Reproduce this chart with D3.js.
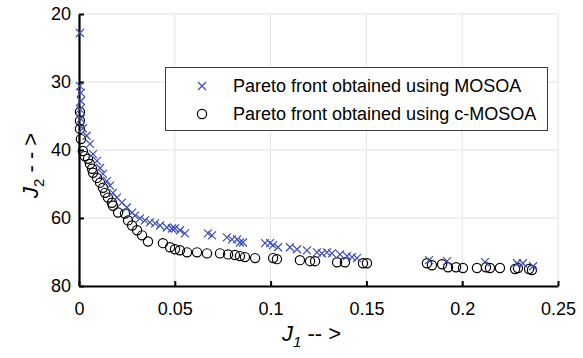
<!DOCTYPE html>
<html><head><meta charset="utf-8">
<script src="https://cdn.jsdelivr.net/npm/d3@7"></script>
<style>
html,body{margin:0;padding:0;background:#fff;}
svg{display:block;font-family:Arial,"Liberation Sans",sans-serif;}
</style></head>
<body>
<svg id="c" width="583" height="358"></svg>
<script>
// ---- data ----
const xTicks = [0, 0.05, 0.1, 0.15, 0.2, 0.25];
const xTickLabels = ["0", "0.05", "0.1", "0.15", "0.2", "0.25"];
const yTicks = [20, 30, 40, 60, 80];
const yTickLabels = ["20", "30", "40", "60", "80"];
const seriesNames = ["Pareto front obtained using MOSOA", "Pareto front obtained using c-MOSOA"];

const mosoaJ1 = [0.0005,0.0005,0.001,0.001,0.0005,0.001,0.002,0.004,0.0057,0.0073,0.0094,0.011,0.0125,0.0146,0.0162,0.0177,0.0198,0.0224,0.025,0.0277,0.0292,0.0318,0.0344,0.037,0.0397,0.0423,0.0459,0.0485,0.050,0.0527,0.0553,0.0673,0.0694,0.0772,0.0799,0.0825,0.084,0.0856,0.0971,0.0997,0.1013,0.1039,0.1101,0.1138,0.119,0.1242,0.1268,0.1294,0.132,0.1362,0.1399,0.1425,0.1451,0.1827,0.1921,0.2119,0.2286,0.2317,0.237];
const mosoaJ2 = [22.8,30.6,31.6,32.8,34.0,35.4,36.8,37.9,39.1,41.2,43.2,45.3,47.0,49.1,50.5,52.6,54.0,55.5,56.9,58.4,59.3,60.1,60.7,61.3,61.6,62.2,62.8,63.1,63.1,63.6,64.5,64.5,65.1,65.7,66.3,66.3,67.2,67.2,67.4,67.4,68.0,68.6,68.6,69.2,69.5,70.1,70.4,70.1,70.4,70.7,71.2,71.5,71.8,72.4,72.7,73.0,73.3,73.3,74.2];

const cmosoaJ1 = [0.0005,0.0005,0.0005,0.001,0.002,0.003,0.0047,0.0057,0.0068,0.0073,0.0094,0.011,0.0125,0.0136,0.0151,0.0172,0.0177,0.0204,0.024,0.0256,0.0277,0.0303,0.0329,0.036,0.0438,0.0475,0.0501,0.0527,0.0564,0.0616,0.0668,0.0736,0.0778,0.0814,0.084,0.0866,0.0919,0.1013,0.1033,0.1153,0.1206,0.1232,0.1347,0.1388,0.1482,0.1503,0.1816,0.1842,0.1895,0.1926,0.1968,0.2004,0.2077,0.2124,0.2145,0.2197,0.2276,0.2291,0.2349,0.2364];
const cmosoaJ2 = [34.4,35.7,36.9,38.4,40.3,41.8,42.6,44.1,45.5,46.7,48.2,49.6,51.1,52.6,54.0,55.5,56.4,58.4,58.7,60.7,62.2,63.6,65.1,66.9,67.4,68.6,69.2,69.5,70.1,70.1,70.4,70.4,70.7,70.9,71.2,71.5,71.8,71.8,72.1,72.4,72.7,72.7,73.0,73.0,73.3,73.3,73.3,73.9,73.6,74.5,74.5,74.7,74.7,74.5,74.7,74.7,75.0,74.7,75.0,75.3];

// ---- layout ----
const L = 79, T = 14, R = 558, B = 286;
const svg = d3.select("#c");
const blue = "#3b4db5";

const x = d3.scaleLinear().domain([0, 0.25]).range([L, R]);
// the y axis is labelled with unequal steps at equal spacing
const y = d3.scaleLinear().domain(yTicks).range(yTicks.map((d, i) => T + i * (B - T) / (yTicks.length - 1)));

// grid
const g = svg.append("g");
g.selectAll(".gx").data(xTicks).enter().append("line")
  .attr("x1", d => x(d)).attr("x2", d => x(d)).attr("y1", T).attr("y2", B)
  .attr("stroke", "#e3e3e3").attr("stroke-width", 1);
g.selectAll(".gy").data(yTicks).enter().append("line")
  .attr("x1", L).attr("x2", R).attr("y1", d => y(d)).attr("y2", d => y(d))
  .attr("stroke", "#e3e3e3").attr("stroke-width", 1);

// axes
const xAxis = d3.axisBottom(x).tickValues(xTicks).tickFormat((d, i) => xTickLabels[i])
  .tickSizeInner(-5).tickSizeOuter(0).tickPadding(14);
const yAxis = d3.axisLeft(y).tickValues(yTicks).tickFormat((d, i) => yTickLabels[i])
  .tickSizeInner(-5).tickSizeOuter(0).tickPadding(12);

const gx = svg.append("g").attr("transform", `translate(0,${B})`).call(xAxis);
const gy = svg.append("g").attr("transform", `translate(${L},0)`).call(yAxis);
[gx, gy].forEach(a => {
  a.select(".domain").attr("stroke", "#000").attr("stroke-width", 2.2);
  a.selectAll(".tick line").attr("stroke", "#000").attr("stroke-width", 2);
  a.selectAll(".tick text").attr("font-size", 18).attr("fill", "#000")
    .attr("font-family", "Arial, 'Liberation Sans', sans-serif");
});
gx.selectAll(".tick text").attr("dy", "0.71em").attr("y", 16);
gy.selectAll(".tick text").attr("x", -8);

// data
const circData = cmosoaJ1.map((d, i) => [d, cmosoaJ2[i]]);
const crossData = mosoaJ1.map((d, i) => [d, mosoaJ2[i]]);

svg.append("g").selectAll("circle").data(circData).enter().append("circle")
  .attr("cx", d => x(d[0])).attr("cy", d => y(d[1])).attr("r", 4.6)
  .attr("fill", "none").attr("stroke", "#000").attr("stroke-width", 1.2);

const s = 4;
const crossPath = (cx, cy) => `M${cx - s},${cy - s}L${cx + s},${cy + s}M${cx - s},${cy + s}L${cx + s},${cy - s}`;
svg.append("g").selectAll("path").data(crossData).enter().append("path")
  .attr("d", d => crossPath(x(d[0]), y(d[1])))
  .attr("stroke", blue).attr("stroke-width", 1.2).attr("fill", "none");

// legend
const lg = svg.append("g");
lg.append("rect").attr("x", 165.5).attr("y", 67.5).attr("width", 382).attr("height", 63)
  .attr("fill", "#fff").attr("stroke", "#3c3c3c").attr("stroke-width", 1);
lg.append("path").attr("d", crossPath(202, 86)).attr("stroke", blue).attr("stroke-width", 1.2).attr("fill", "none");
lg.append("circle").attr("cx", 202).attr("cy", 114).attr("r", 4.6).attr("fill", "none").attr("stroke", "#000").attr("stroke-width", 1.2);
lg.selectAll("text").data(seriesNames).enter().append("text")
  .attr("x", 233).attr("y", (d, i) => 92 + i * 28)
  .attr("font-size", 18).attr("fill", "#000").text(d => d);

// axis titles
const xt = svg.append("text").attr("x", 282).attr("y", 341).attr("font-size", 22).attr("fill", "#000");
xt.append("tspan").attr("font-style", "italic").text("J");
xt.append("tspan").attr("font-style", "italic").attr("font-size", 15).attr("dy", 6).text("1");
xt.append("tspan").attr("dy", -6).text(" -- >");

const yt = svg.append("text").attr("transform", "translate(38,198) rotate(-90)")
  .attr("font-size", 22).attr("fill", "#000");
yt.append("tspan").attr("font-style", "italic").text("J");
yt.append("tspan").attr("font-size", 15).attr("dy", 6).text("2");
yt.append("tspan").attr("dy", -6).text(" - - >");
</script>
</body></html>
